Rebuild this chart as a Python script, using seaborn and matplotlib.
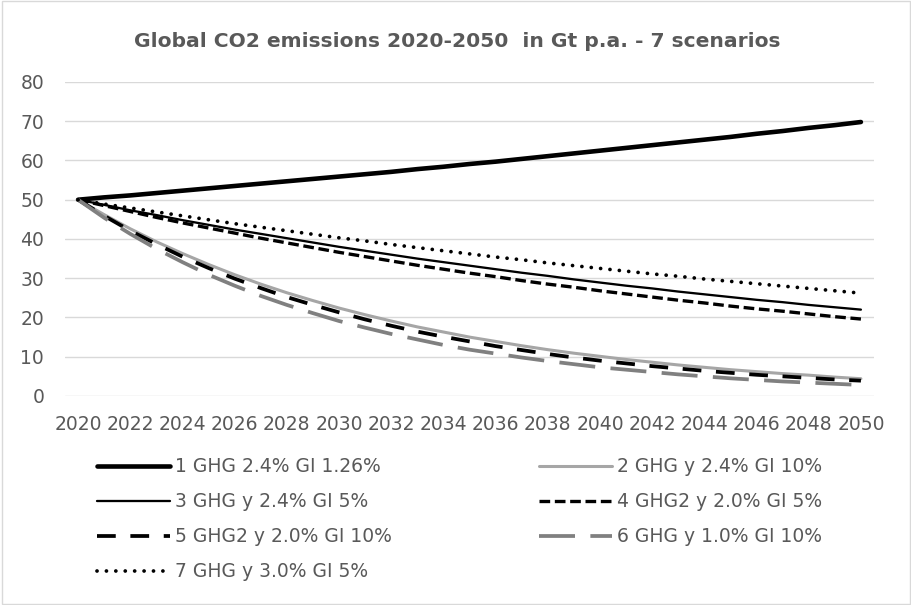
import matplotlib
matplotlib.use("Agg")
import matplotlib.pyplot as plt
import seaborn as sns
from matplotlib.patches import Rectangle

years = list(range(2020, 2051))

s1 = [50.0, 50.6, 51.1, 51.7, 52.3, 52.9, 53.5, 54.1, 54.7, 55.3, 55.9, 56.5, 57.1, 57.8, 58.4, 59.1,
      59.7, 60.4, 61.1, 61.8, 62.5, 63.2, 63.9, 64.6, 65.3, 66.0, 66.8, 67.5, 68.3, 69.0, 69.8]
s2 = [50.0, 46.2, 42.6, 39.3, 36.3, 33.5, 30.9, 28.5, 26.3, 24.3, 22.4, 20.7, 19.1, 17.6, 16.3, 15.0,
      13.9, 12.8, 11.8, 10.9, 10.1, 9.3, 8.6, 7.9, 7.3, 6.7, 6.2, 5.7, 5.3, 4.8, 4.4]
s3 = [50.0, 48.7, 47.3, 46.1, 44.8, 43.6, 42.4, 41.3, 40.2, 39.1, 38.0, 37.0, 36.0, 35.0, 34.1, 33.2,
      32.3, 31.4, 30.6, 29.7, 28.9, 28.1, 27.4, 26.6, 25.9, 25.2, 24.5, 23.9, 23.2, 22.6, 22.0]
s4 = [50.0, 48.5, 47.0, 45.5, 44.1, 42.8, 41.5, 40.2, 39.0, 37.8, 36.6, 35.5, 34.4, 33.3, 32.3, 31.3,
      30.4, 29.4, 28.5, 27.7, 26.8, 26.0, 25.2, 24.4, 23.7, 22.9, 22.2, 21.6, 20.9, 20.2, 19.6]
s5 = [50.0, 45.9, 42.1, 38.7, 35.5, 32.6, 29.9, 27.5, 25.2, 23.2, 21.3, 19.5, 17.9, 16.4, 15.1, 13.9,
      12.7, 11.7, 10.7, 9.8, 9.0, 8.3, 7.6, 7.0, 6.4, 5.9, 5.4, 5.0, 4.6, 4.2, 3.9]
s6 = [50.0, 45.4, 41.3, 37.5, 34.1, 30.9, 28.1, 25.5, 23.2, 21.1, 19.1, 17.4, 15.8, 14.4, 13.0, 11.8,
      10.8, 9.8, 8.9, 8.1, 7.3, 6.7, 6.1, 5.5, 5.0, 4.5, 4.1, 3.7, 3.4, 3.1, 2.8]
s7 = [50.0, 48.9, 47.9, 46.9, 45.9, 44.9, 43.9, 43.0, 42.1, 41.2, 40.3, 39.5, 38.6, 37.8, 37.0, 36.2,
      35.4, 34.7, 33.9, 33.2, 32.5, 31.8, 31.1, 30.5, 29.8, 29.2, 28.6, 28.0, 27.4, 26.8, 26.2]

labels = ["1 GHG 2.4% GI 1.26%", "2 GHG y 2.4% GI 10%", "3 GHG y 2.4% GI 5%",
          "4 GHG2 y 2.0% GI 5%", "5 GHG2 y 2.0% GI 10%", "6 GHG y 1.0% GI 10%",
          "7 GHG y 3.0% GI 5%"]
series = [s1, s2, s3, s4, s5, s6, s7]
x_ticks = list(range(2020, 2051, 2))
y_ticks = list(range(0, 81, 10))
title = "Global CO2 emissions 2020-2050  in Gt p.a. - 7 scenarios"

styles = [
    dict(color="#000000", lw=3.3, ls="-", cap="butt"),
    dict(color="#A6A6A6", lw=2.2, ls="-", cap="butt"),
    dict(color="#000000", lw=1.65, ls="-", cap="butt"),
    dict(color="#000000", lw=2.4, ls=(0, (3.2, 1.4)), cap="butt"),
    dict(color="#000000", lw=2.7, ls=(0, (5.0, 3.9)), cap="butt"),
    dict(color="#808080", lw=2.7, ls=(0, (9.6, 4.1)), cap="butt"),
    dict(color="#000000", lw=2.7, ls=(0, (0.01, 2.5)), cap="round"),
]

sns.set_style("white")
plt.rcParams["font.family"] = ["DejaVu Sans"]
text_color = "#595959"
grid_color = "#D9D9D9"

fig = plt.figure(figsize=(9.12, 6.05), dpi=100)
ax = fig.add_axes([0.0713, 0.3455, 0.887, 0.519])

handles = []
for vals, lab, st in zip(series, labels, styles):
    sns.lineplot(x=years, y=vals, ax=ax, color=st["color"], linewidth=st["lw"],
                 linestyle=st["ls"], label=lab, legend=False)
    line = ax.lines[-1]
    line.set_dash_capstyle(st["cap"])
    line.set_solid_capstyle("round" if st["ls"] == "-" else "butt")
    handles.append(line)

ax.set_xlim(2019.5, 2050.5)
ax.set_ylim(0, 80)
ax.set_xticks(x_ticks)
ax.set_yticks(y_ticks)
ax.set_xticklabels([str(v) for v in x_ticks])
ax.tick_params(axis="both", length=0, labelsize=13.5, colors=text_color)
ax.tick_params(axis="y", pad=15)
ax.tick_params(axis="x", pad=14)
ax.yaxis.grid(True, color=grid_color, linewidth=1.0)
ax.xaxis.grid(False)
ax.set_axisbelow(True)
for sp in ax.spines.values():
    sp.set_visible(False)
ax.set_xlabel("")
ax.set_ylabel("")

fig.text(0.501, 0.931, title, ha="center", va="center", fontsize=14.6,
         fontweight="bold", color=text_color)

order = [0, 2, 4, 6, 1, 3, 5]
leg = fig.legend([handles[i] for i in order], [labels[i] for i in order],
                 loc="upper left", bbox_to_anchor=(0.106, 0.244), ncol=2,
                 frameon=False, fontsize=13.5, handlelength=3.9, handletextpad=0.3,
                 labelspacing=0.85, columnspacing=7.8, borderpad=0, borderaxespad=0)
for t in leg.get_texts():
    t.set_color(text_color)

fig.patches.append(Rectangle((0.002, 0.002), 0.996, 0.996, transform=fig.transFigure,
                             fill=False, edgecolor=grid_color, linewidth=1.0))

fig.savefig("out.png", dpi=100)
